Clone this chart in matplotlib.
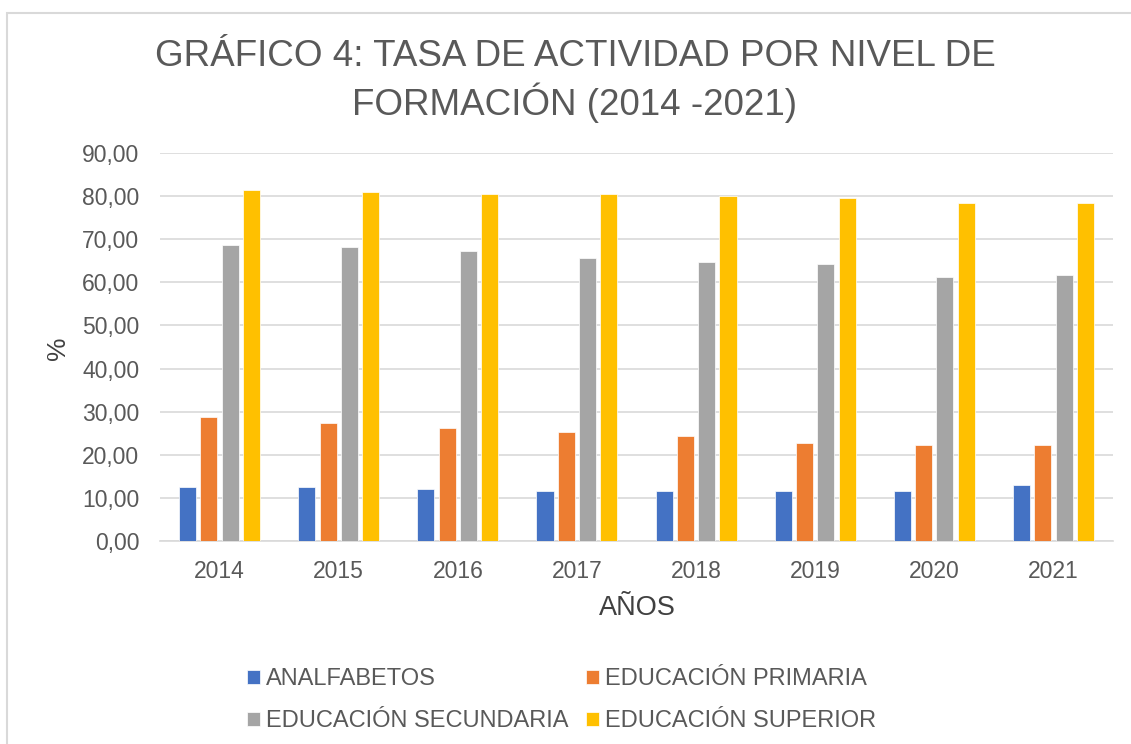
import numpy as np
import matplotlib.pyplot as plt
from matplotlib.patches import Rectangle

plt.rcParams['font.family'] = ['Liberation Sans', 'DejaVu Sans']

# datos
years = ['2014', '2015', '2016', '2017', '2018', '2019', '2020', '2021']
analfabetos = [12.5, 12.5, 12.0, 11.5, 11.5, 11.5, 11.5, 13.0]
primaria = [28.8, 27.3, 26.3, 25.3, 24.3, 22.8, 22.3, 22.3]
secundaria = [68.6, 68.1, 67.2, 65.6, 64.7, 64.2, 61.3, 61.7]
superior = [81.5, 81.0, 80.5, 80.5, 80.0, 79.5, 78.5, 78.5]

series = [analfabetos, primaria, secundaria, superior]
labels = ['ANALFABETOS', 'EDUCACIÓN PRIMARIA', 'EDUCACIÓN SECUNDARIA', 'EDUCACIÓN SUPERIOR']
colors = ['#4472C4', '#ED7D31', '#A5A5A5', '#FFC000']

W, H = 1131, 744
fig = plt.figure(figsize=(W / 100, H / 100), dpi=100)
ax = fig.add_axes([160 / W, 1 - 541 / H, (1113 - 160) / W, (541 - 153) / H])

# borde del gráfico
fig.patches.append(Rectangle((7 / W, -0.1), 1.2, 1 - 13 / H + 0.1, transform=fig.transFigure,
                             fill=False, edgecolor='#d9d9d9', linewidth=1.5))

x = np.arange(len(years))
width = 0.143
offsets = [-0.268, -0.089, 0.089, 0.268]
handles = []
for vals, off, c, lab in zip(series, offsets, colors, labels):
    b = ax.bar(x + off, vals, width, color=c, edgecolor='white', linewidth=0.5, label=lab, zorder=3)
    handles.append(b)

ax.set_xlim(-0.5, len(years) - 0.5)
ax.set_ylim(0, 90)
ax.set_yticks(np.arange(0, 91, 10))
ax.set_yticklabels([f'{v:.2f}'.replace('.', ',') for v in np.arange(0, 91, 10)])
ax.set_xticks(x)
ax.set_xticklabels(years)
ax.tick_params(axis='both', length=0, labelsize=16.5, colors='#595959')
ax.tick_params(axis='y', pad=15)
ax.tick_params(axis='x', pad=14)
ax.grid(axis='y', color='#d9d9d9', linewidth=1.2, zorder=0)
for s in ['top', 'right', 'left']:
    ax.spines[s].set_visible(False)
ax.spines['bottom'].set_color('#d9d9d9')
ax.spines['bottom'].set_linewidth(1.2)

# títulos
fig.text(575 / W, 1 - 56 / H, 'GRÁFICO 4: TASA DE ACTIVIDAD POR NIVEL DE', ha='center', va='center',
         fontsize=26.5, color='#595959')
fig.text(575 / W, 1 - 103 / H, 'FORMACIÓN (2014 -2021)', ha='center', va='center',
         fontsize=26.5, color='#595959')
fig.text(637 / W, 1 - 608 / H, 'AÑOS', ha='center', va='center', fontsize=19.5, color='#404040')
fig.text(58 / W, 1 - 348 / H, '%', ha='center', va='center', rotation=90, fontsize=19, color='#404040')

# leyenda: filas A/P y S/Sup
order = [0, 2, 1, 3]
leg = fig.legend(handles=[handles[i] for i in order], labels=[labels[i] for i in order],
                 loc='upper left', bbox_to_anchor=(247 / W, 1 - 668 / H),
                 ncol=2, frameon=False, fontsize=17, handlelength=0.55, handleheight=0.55,
                 handletextpad=0.25, columnspacing=0.75, labelspacing=0.85, borderaxespad=0, borderpad=0)
for t in leg.get_texts():
    t.set_color('#595959')

plt.savefig('out.png', dpi=100)
